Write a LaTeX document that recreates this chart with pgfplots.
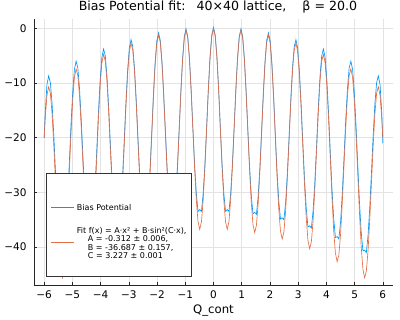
\documentclass[border=0pt]{standalone}
\usepackage{fontspec}
\setmainfont{DejaVu Sans}
\usepackage{pgfplots}
\pgfplotsset{compat=1.18}
\usepackage{pgfplotstable}
\definecolor{jblue}{RGB}{0,154,250}
\definecolor{jorange}{RGB}{227,111,71}
\pgfplotsset{
  leg bias/.style={legend image code/.code={\draw[##1] (0pt,3.4pt) -- (23pt,3.4pt);}},
  leg fit/.style={legend image code/.code={\draw[##1] (0pt,-9.7pt) -- (23pt,-9.7pt);}},
}

% x = Q_cont, b = bias potential, f = fit
\pgfplotstableread{
x b f
-6.000 -20.00 -20.04
-5.963 -15.50 -16.47
-5.902 -10.26 -12.26
-5.841 -8.67 -10.65
-5.780 -9.89 -11.82
-5.720 -13.71 -15.58
-5.659 -19.43 -21.31
-5.598 -26.25 -28.12
-5.537 -32.77 -34.93
-5.476 -37.90 -40.67
-5.415 -41.02 -44.44
-5.354 -40.55 -45.63
-5.294 -40.69 -44.03
-5.233 -37.22 -39.86
-5.172 -31.75 -33.71
-5.111 -24.89 -26.49
-5.050 -17.73 -19.28
-4.989 -11.67 -13.14
-4.929 -7.52 -8.97
-4.868 -5.96 -7.39
-4.807 -7.21 -8.61
-4.746 -11.06 -12.40
-4.685 -16.81 -18.17
-4.624 -23.66 -25.02
-4.563 -30.21 -31.86
-4.503 -35.37 -37.64
-4.442 -38.53 -41.45
-4.381 -38.09 -42.68
-4.320 -38.25 -41.11
-4.259 -34.82 -36.97
-4.198 -29.38 -30.86
-4.138 -22.55 -23.68
-4.077 -15.42 -16.51
-4.016 -9.39 -10.40
-3.955 -5.27 -6.28
-3.894 -3.74 -4.73
-3.833 -5.02 -5.98
-3.772 -8.90 -9.81
-3.712 -14.68 -15.62
-3.651 -21.57 -22.50
-3.590 -28.15 -29.38
-3.529 -33.34 -35.20
-3.468 -36.53 -39.04
-3.407 -36.12 -40.31
-3.347 -36.31 -38.78
-3.286 -32.91 -34.68
-3.225 -27.50 -28.61
-3.164 -20.70 -21.47
-3.103 -13.60 -14.33
-3.042 -7.61 -8.26
-2.981 -3.51 -4.17
-2.921 -2.02 -2.66
-2.860 -3.33 -3.95
-2.799 -7.24 -7.82
-2.738 -13.05 -13.66
-2.677 -19.96 -20.58
-2.616 -26.58 -27.50
-2.556 -31.80 -33.35
-2.495 -35.02 -37.23
-2.434 -34.64 -38.54
-2.373 -34.86 -37.05
-2.312 -31.49 -32.98
-2.251 -26.12 -26.94
-2.190 -19.35 -19.84
-2.130 -12.28 -12.74
-2.069 -6.31 -6.71
-2.008 -2.25 -2.65
-1.947 -0.79 -1.18
-1.886 -2.13 -2.51
-1.825 -6.07 -6.41
-1.765 -11.91 -12.30
-1.704 -18.85 -19.25
-1.643 -25.50 -26.21
-1.582 -30.75 -32.10
-1.521 -34.00 -36.01
-1.460 -33.65 -37.35
-1.399 -33.91 -35.90
-1.339 -30.57 -31.87
-1.278 -25.22 -25.87
-1.217 -18.49 -18.81
-1.156 -11.45 -11.74
-1.095 -5.51 -5.75
-1.034 -1.48 -1.73
-0.974 -0.05 -0.30
-0.913 -1.42 -1.66
-0.852 -5.39 -5.60
-0.791 -11.26 -11.52
-0.730 -18.24 -18.51
-0.669 -24.92 -25.50
-0.608 -30.20 -31.43
-0.548 -33.48 -35.38
-0.487 -33.16 -36.76
-0.426 -33.45 -35.35
-0.365 -30.13 -31.36
-0.304 -24.82 -25.39
-0.243 -18.12 -18.36
-0.183 -11.11 -11.33
-0.122 -5.20 -5.38
-0.061 -1.20 -1.40
0.000 0.20 0.00
0.061 -1.20 -1.40
0.122 -5.20 -5.38
0.183 -11.11 -11.33
0.243 -18.12 -18.36
0.304 -24.82 -25.39
0.365 -30.13 -31.36
0.426 -33.45 -35.35
0.487 -33.16 -36.76
0.548 -33.48 -35.38
0.608 -30.20 -31.43
0.669 -24.92 -25.50
0.730 -18.24 -18.51
0.791 -11.26 -11.52
0.852 -5.39 -5.60
0.913 -1.42 -1.66
0.974 -0.05 -0.30
1.034 -1.48 -1.73
1.095 -5.51 -5.75
1.156 -11.45 -11.74
1.217 -18.49 -18.81
1.278 -25.22 -25.87
1.339 -30.57 -31.87
1.399 -33.91 -35.90
1.460 -33.65 -37.35
1.521 -34.00 -36.01
1.582 -30.75 -32.10
1.643 -25.50 -26.21
1.704 -18.85 -19.25
1.765 -11.91 -12.30
1.825 -6.07 -6.41
1.886 -2.13 -2.51
1.947 -0.79 -1.18
2.008 -2.25 -2.65
2.069 -6.31 -6.71
2.130 -12.28 -12.74
2.190 -19.35 -19.84
2.251 -26.12 -26.94
2.312 -31.49 -32.98
2.373 -34.86 -37.05
2.434 -34.64 -38.54
2.495 -35.02 -37.23
2.556 -31.80 -33.35
2.616 -26.58 -27.50
2.677 -19.96 -20.58
2.738 -13.05 -13.66
2.799 -7.24 -7.82
2.860 -3.33 -3.95
2.921 -2.02 -2.66
2.981 -3.51 -4.17
3.042 -7.61 -8.26
3.103 -13.60 -14.33
3.164 -20.70 -21.47
3.225 -27.50 -28.61
3.286 -32.91 -34.68
3.347 -36.31 -38.78
3.407 -36.12 -40.31
3.468 -36.53 -39.04
3.529 -33.34 -35.20
3.590 -28.15 -29.38
3.651 -21.57 -22.50
3.712 -14.68 -15.62
3.772 -8.90 -9.81
3.833 -5.02 -5.98
3.894 -3.74 -4.73
3.955 -5.27 -6.28
4.016 -9.39 -10.40
4.077 -15.42 -16.51
4.138 -22.55 -23.68
4.198 -29.38 -30.86
4.259 -34.82 -36.97
4.320 -38.25 -41.11
4.381 -38.09 -42.68
4.442 -38.53 -41.45
4.503 -35.37 -37.64
4.563 -30.21 -31.86
4.624 -23.66 -25.02
4.685 -16.81 -18.17
4.746 -11.06 -12.40
4.807 -7.21 -8.61
4.868 -5.96 -7.39
4.929 -7.52 -8.97
4.989 -11.67 -13.14
5.050 -17.73 -19.28
5.111 -24.89 -26.49
5.172 -31.75 -33.71
5.233 -37.22 -39.86
5.294 -40.69 -44.03
5.354 -40.55 -45.63
5.415 -41.02 -44.44
5.476 -37.90 -40.67
5.537 -32.77 -34.93
5.598 -26.25 -28.12
5.659 -19.43 -21.31
5.720 -13.71 -15.58
5.780 -9.89 -11.82
5.841 -8.67 -10.65
5.902 -10.26 -12.26
5.963 -15.50 -16.47
6.000 -21.00 -20.04
}\biasdata

\begin{document}
\begin{tikzpicture}
\useasboundingbox (-34pt,-35pt) rectangle (366pt,285pt);
\begin{axis}[
  at={(0,0)}, anchor=south west,
  scale only axis, width=359pt, height=266pt,
  xmin=-6.36, xmax=6.36, ymin=-46.95, ymax=1.75,
  axis lines*=left,
  axis line style={-, black!85, line width=0.7pt},
  xtick={-6,-5,-4,-3,-2,-1,0,1,2,3,4,5,6},
  xticklabels={−6,−5,−4,−3,−2,−1,0,1,2,3,4,5,6},
  ytick={-40,-30,-20,-10,0},
  yticklabels={−40,−30,−20,−10,0},
  tick align=inside, major tick length=3pt,
  tick style={black!85, line width=0.6pt},
  grid=major, grid style={black!11, line width=0.6pt},
  ticklabel style={font=\fontsize{10.5}{12}\selectfont, inner sep=0pt},
  xticklabel style={anchor=base, yshift=-13.3pt},
  yticklabel style={anchor=east, xshift=-7.3pt},
  title={Bias Potential fit:\hspace{11pt}40×40 lattice,\hspace{16pt}β = 20.0},
  every axis title/.style={at={(0.5125,1.0301)}, anchor=base, inner sep=0pt,
    font=\fontsize{12.6}{14}\selectfont},
  xlabel={Q\_cont},
  every axis x label/.style={at={(0.5,-0.1071)}, anchor=base, inner sep=0pt,
    font=\fontsize{11.7}{14}\selectfont},
  legend cell align=left,
  legend style={at={(0.0334,0.4184)}, anchor=north west,
    draw=none, fill=none,
    inner xsep=4.5pt, inner ysep=15pt, row sep=14.6pt, column sep=2.6pt,
    font=\fontsize{8}{8.5}\selectfont,
    nodes={inner sep=0pt, anchor=base west}},
]
\addplot[color=jblue, line width=0.65pt, leg bias]
  table[x=x, y=b] {\biasdata};
\addlegendentry{\rule{0pt}{22pt}Bias Potential}
\addplot[color=jorange, line width=0.65pt, leg fit]
  table[x=x, y=f] {\biasdata};
\addlegendentry{\begin{tabular}[t]{@{}l@{}}Fit f(x) = A·x² + B·sin²(C·x),\\\hspace*{11pt}A = -0.312 ± 0.006,\\\hspace*{11pt}B = -36.687 ± 0.157,\\\hspace*{11pt}C = 3.227 ± 0.001\end{tabular}}
% legend frame
\draw[black!80, line width=0.6pt, fill=white]
  (axis description cs:0.0334,0.0338) rectangle (axis description cs:0.4393,0.4184);
\end{axis}
\end{tikzpicture}
\end{document}
